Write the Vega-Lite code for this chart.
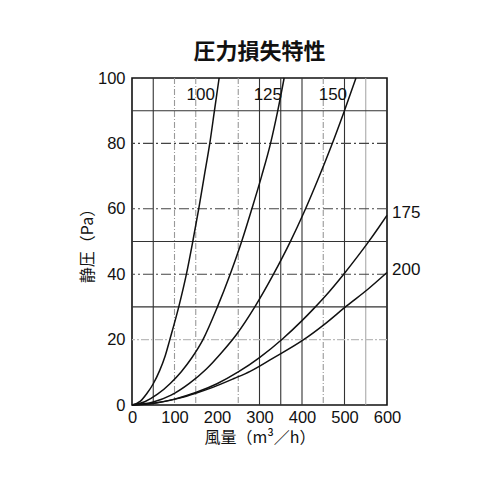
{
  "$schema": "https://vega.github.io/schema/vega-lite/v6.json",
  "description": "Pressure loss characteristics (static pressure vs air volume) for duct sizes 100-200.",
  "autosize": "none",
  "width": 255,
  "height": 327,
  "padding": {"left": 132, "top": 78, "right": 113, "bottom": 95},
  "title": {
    "text": "圧力損失特性",
    "font": "Noto Sans CJK JP",
    "fontSize": 22,
    "fontWeight": "bold",
    "color": "#111",
    "offset": 6
  },
  "datasets": {
    "curves": [
      {"size": "100", "flow": 0, "pa": 0},
      {"size": "100", "flow": 20, "pa": 1.2},
      {"size": "100", "flow": 35, "pa": 3.5},
      {"size": "100", "flow": 50, "pa": 6.5},
      {"size": "100", "flow": 65, "pa": 10.5},
      {"size": "100", "flow": 78, "pa": 15},
      {"size": "100", "flow": 89, "pa": 20},
      {"size": "100", "flow": 110, "pa": 30},
      {"size": "100", "flow": 128, "pa": 40},
      {"size": "100", "flow": 143, "pa": 50},
      {"size": "100", "flow": 157, "pa": 60},
      {"size": "100", "flow": 170, "pa": 70},
      {"size": "100", "flow": 183, "pa": 80},
      {"size": "100", "flow": 194, "pa": 90},
      {"size": "100", "flow": 205, "pa": 100},
      {"size": "125", "flow": 0, "pa": 0},
      {"size": "125", "flow": 30, "pa": 1},
      {"size": "125", "flow": 60, "pa": 3.3},
      {"size": "125", "flow": 90, "pa": 6.6},
      {"size": "125", "flow": 116, "pa": 10.2},
      {"size": "125", "flow": 140, "pa": 14.3},
      {"size": "125", "flow": 167, "pa": 20},
      {"size": "125", "flow": 201, "pa": 30},
      {"size": "125", "flow": 231, "pa": 40},
      {"size": "125", "flow": 258, "pa": 50},
      {"size": "125", "flow": 282, "pa": 60},
      {"size": "125", "flow": 305, "pa": 70},
      {"size": "125", "flow": 326, "pa": 80},
      {"size": "125", "flow": 343, "pa": 90},
      {"size": "125", "flow": 358, "pa": 100},
      {"size": "150", "flow": 0, "pa": 0},
      {"size": "150", "flow": 50, "pa": 0.9},
      {"size": "150", "flow": 92, "pa": 3.0},
      {"size": "150", "flow": 135, "pa": 6.6},
      {"size": "150", "flow": 175, "pa": 11},
      {"size": "150", "flow": 210, "pa": 15.9},
      {"size": "150", "flow": 245, "pa": 21.4},
      {"size": "150", "flow": 289, "pa": 30},
      {"size": "150", "flow": 333, "pa": 40},
      {"size": "150", "flow": 372, "pa": 49.8},
      {"size": "150", "flow": 405, "pa": 59},
      {"size": "150", "flow": 437, "pa": 68.8},
      {"size": "150", "flow": 469, "pa": 79.2},
      {"size": "150", "flow": 499, "pa": 89.7},
      {"size": "150", "flow": 527, "pa": 100},
      {"size": "175", "flow": 0, "pa": 0},
      {"size": "175", "flow": 50, "pa": 0.5},
      {"size": "175", "flow": 100, "pa": 1.8},
      {"size": "175", "flow": 150, "pa": 3.8},
      {"size": "175", "flow": 200, "pa": 6.5},
      {"size": "175", "flow": 250, "pa": 10.1},
      {"size": "175", "flow": 300, "pa": 14.5},
      {"size": "175", "flow": 354, "pa": 20.2},
      {"size": "175", "flow": 400, "pa": 25.8},
      {"size": "175", "flow": 427, "pa": 29.4},
      {"size": "175", "flow": 465, "pa": 34.8},
      {"size": "175", "flow": 500, "pa": 40.3},
      {"size": "175", "flow": 530, "pa": 45.3},
      {"size": "175", "flow": 556, "pa": 49.8},
      {"size": "175", "flow": 580, "pa": 54.2},
      {"size": "175", "flow": 600, "pa": 58},
      {"size": "200", "flow": 0, "pa": 0},
      {"size": "200", "flow": 60, "pa": 0.7},
      {"size": "200", "flow": 112, "pa": 2.1},
      {"size": "200", "flow": 150, "pa": 3.6},
      {"size": "200", "flow": 190, "pa": 5.4},
      {"size": "200", "flow": 240, "pa": 8.1},
      {"size": "200", "flow": 278, "pa": 10.3},
      {"size": "200", "flow": 330, "pa": 14.2},
      {"size": "200", "flow": 403, "pa": 19.9},
      {"size": "200", "flow": 455, "pa": 24.9},
      {"size": "200", "flow": 505, "pa": 30.3},
      {"size": "200", "flow": 555, "pa": 35.4},
      {"size": "200", "flow": 600, "pa": 40.5}
    ],
    "vgrid": [
      {"flow": 50, "kind": "solid"},
      {"flow": 100, "kind": "dotted"},
      {"flow": 150, "kind": "dotted"},
      {"flow": 250, "kind": "dotted"},
      {"flow": 300, "kind": "solid"},
      {"flow": 350, "kind": "solid"},
      {"flow": 400, "kind": "solid"},
      {"flow": 450, "kind": "dotted"},
      {"flow": 500, "kind": "solid"},
      {"flow": 550, "kind": "heavy"}
    ],
    "hgrid": [
      {"pa": 20, "kind": "light"},
      {"pa": 30, "kind": "solid"},
      {"pa": 40, "kind": "dashdot"},
      {"pa": 50, "kind": "solid"},
      {"pa": 60, "kind": "dashdot"},
      {"pa": 80, "kind": "dashdot"},
      {"pa": 90, "kind": "solid"}
    ],
    "topLabels": [
      {"size": "100", "flow": 195, "pa": 94.8},
      {"size": "125", "flow": 353, "pa": 94.8},
      {"size": "150", "flow": 506, "pa": 94.8}
    ],
    "sideLabels": [
      {"size": "175", "flow": 612, "pa": 58.7},
      {"size": "200", "flow": 612, "pa": 41.3}
    ]
  },
  "layer": [
    {
      "data": {"name": "vgrid"},
      "mark": {"type": "rule"},
      "encoding": {
        "x": {
          "field": "flow",
          "type": "quantitative",
          "scale": {"domain": [0, 600], "nice": false},
          "axis": {"title": "風量（m³／h）", "values": [0, 100, 200, 300, 400, 500, 600]}
        },
        "color": {"field": "kind", "type": "nominal", "legend": null,
          "scale": {"domain": ["solid", "dotted", "dashdot", "light", "heavy"], "range": ["#333", "#999", "#444", "#bbb", "#aaa"]}},
        "strokeDash": {"field": "kind", "type": "nominal", "legend": null,
          "scale": {"domain": ["solid", "dotted", "dashdot", "light", "heavy"], "range": [[1, 0], [6, 2, 1, 2], [10, 3, 2, 3], [8, 2, 2, 2], [1, 0]]}},
        "strokeWidth": {"field": "kind", "type": "nominal", "legend": null,
          "scale": {"domain": ["solid", "dotted", "dashdot", "light", "heavy"], "range": [1.1, 1.1, 1.1, 1.1, 3.5]}}
      }
    },
    {
      "data": {"name": "hgrid"},
      "mark": {"type": "rule"},
      "encoding": {
        "y": {
          "field": "pa",
          "type": "quantitative",
          "scale": {"domain": [0, 100], "nice": false},
          "axis": {"title": "静圧（Pa）", "values": [0, 20, 40, 60, 80, 100]}
        },
        "color": {"field": "kind", "type": "nominal", "legend": null},
        "strokeDash": {"field": "kind", "type": "nominal", "legend": null},
        "strokeWidth": {"field": "kind", "type": "nominal", "legend": null}
      }
    },
    {
      "data": {"name": "curves"},
      "mark": {"type": "line", "interpolate": "monotone", "stroke": "#111", "strokeWidth": 1.5},
      "encoding": {
        "x": {"field": "flow", "type": "quantitative"},
        "y": {"field": "pa", "type": "quantitative"},
        "detail": {"field": "size", "type": "nominal"}
      }
    },
    {
      "data": {"name": "topLabels"},
      "mark": {"type": "text", "align": "right", "baseline": "middle", "font": "Liberation Sans", "fontSize": 17, "color": "#111"},
      "encoding": {
        "x": {"field": "flow", "type": "quantitative"},
        "y": {"field": "pa", "type": "quantitative"},
        "text": {"field": "size", "type": "nominal"}
      }
    },
    {
      "data": {"name": "sideLabels"},
      "mark": {"type": "text", "align": "left", "baseline": "middle", "font": "Liberation Sans", "fontSize": 17, "color": "#111"},
      "encoding": {
        "x": {"field": "flow", "type": "quantitative"},
        "y": {"field": "pa", "type": "quantitative"},
        "text": {"field": "size", "type": "nominal"}
      }
    }
  ],
  "config": {
    "view": {"stroke": "#111", "strokeWidth": 1.6},
    "axis": {
      "domain": false,
      "ticks": false,
      "grid": false,
      "labelOverlap": false,
      "labelFlush": false,
      "labelFont": "Liberation Sans",
      "labelFontSize": 16.5,
      "labelColor": "#111",
      "titleFont": "Noto Sans CJK JP",
      "titleFontSize": 16,
      "titleFontWeight": "normal",
      "titleColor": "#111"
    },
    "axisX": {"labelPadding": 4, "titlePadding": 4},
    "axisY": {"labelPadding": 7, "titlePadding": 2}
  }
}
